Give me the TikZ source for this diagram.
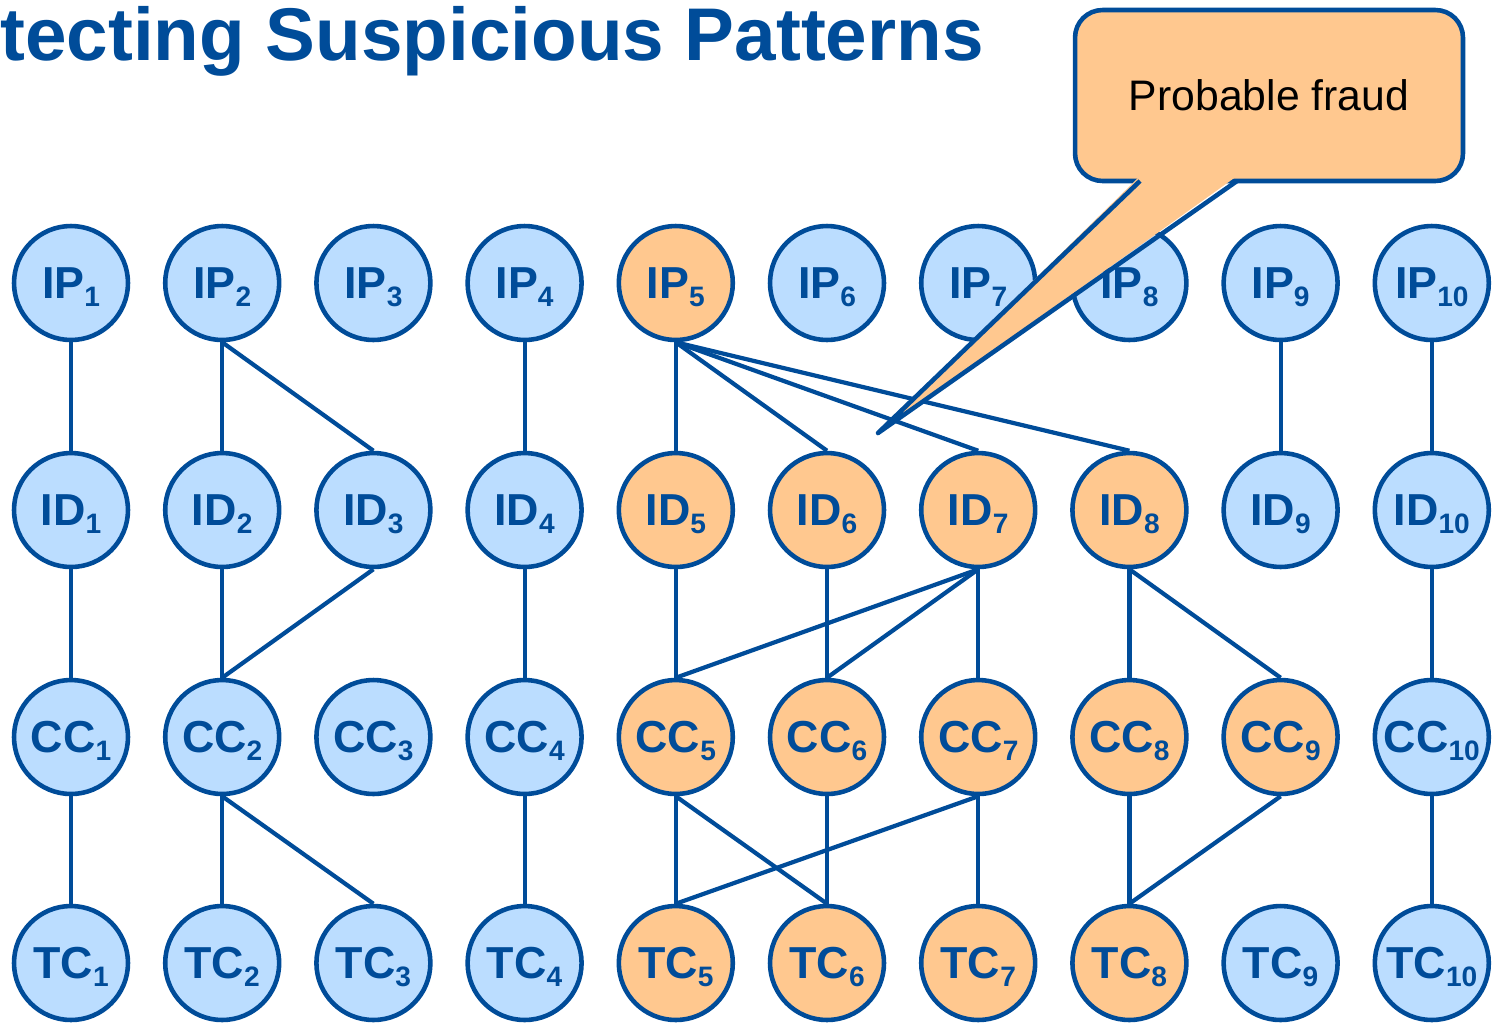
\documentclass[tikz,border=0pt]{standalone}
\usepackage{fontspec}
\setmainfont{Liberation Sans}
\usetikzlibrary{positioning}
\definecolor{darkblue}{RGB}{0,76,153}
\definecolor{paleblue}{RGB}{187,221,255}
\definecolor{paleorange}{RGB}{255,200,143}
\newcommand{\idx}[1]{\raisebox{-4.5pt}{\fontsize{16}{16}\selectfont #1}}

\begin{document}
\begin{tikzpicture}[x=0.02cm, y=-0.02cm,
  station/.style={circle, draw=darkblue, line width=2.6pt, minimum size=2.28cm,
    inner sep=0pt, font=\fontsize{25.5}{26}\selectfont\bfseries,
    text=darkblue, text depth=0pt},
  link/.style={darkblue, line width=2.4pt}]

\useasboundingbox (0,0) rectangle (1493,1022);

% --- Title ---
\node[anchor=base west, inner sep=0pt, font=\fontsize{42.5}{44}\selectfont\bfseries,
  text=darkblue] (title) at (0,60) {tecting Suspicious Patterns};

% --- Nodes: one row per entity type ---
\foreach \lab/\y/\last in {IP/283/5, ID/510/8, CC/737/9, TC/963/8} {
  \foreach \i in {1,...,10} {
    \pgfmathsetmacro{\xx}{71+(\i-1)*151.2}
    \ifnum\i<5 \def\fc{paleblue}\else\ifnum\i>\last \def\fc{paleblue}\else\def\fc{paleorange}\fi\fi
    \node[station, fill=\fc] (\lab\i) at (\xx,\y) {\lab\idx{\i}};
  }
}

% --- Links ---
\foreach \a/\b in {IP1/ID1, IP2/ID2, IP2/ID3, IP4/ID4, IP5/ID5, IP5/ID6, IP5/ID7,
  IP5/ID8, IP9/ID9, IP10/ID10,
  ID1/CC1, ID2/CC2, ID3/CC2, ID4/CC4, ID5/CC5, ID6/CC6, ID7/CC5, ID7/CC6,
  ID7/CC7, ID8/CC8, ID8/CC9, ID10/CC10,
  CC1/TC1, CC2/TC2, CC2/TC3, CC4/TC4, CC5/TC5, CC5/TC6, CC6/TC6, CC7/TC5,
  CC7/TC7, CC8/TC8, CC9/TC8, CC10/TC10}
  \draw[link] (\a.south) -- (\b.north);

% --- Callout ---
\node[draw=darkblue, line width=2.6pt, fill=paleorange, rounded corners=0.55cm,
  minimum width=7.76cm, minimum height=3.42cm, font=\fontsize{24.3}{26}\selectfont]
  (fraud) at (1269,95.5) {Probable fraud};
\coordinate (tip) at (878,433);
\fill[paleorange] (1140,176) -- (tip) -- (1237,176) -- cycle;
\draw[darkblue, line width=2.6pt, line join=round] (1140,181) -- (tip) -- (1237,181);

\end{tikzpicture}
\end{document}
